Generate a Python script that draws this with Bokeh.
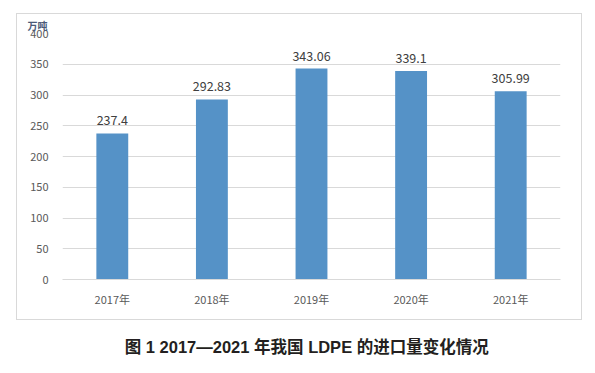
from bokeh.plotting import figure
from bokeh.models import ColumnDataSource, FixedTicker, Range1d, Title
from bokeh.layouts import column
from bokeh.embed import file_html
from bokeh.resources import INLINE
from bokeh.core.properties import value

years = ["2017年", "2018年", "2019年", "2020年", "2021年"]
imports = [237.4, 292.83, 343.06, 339.1, 305.99]
value_labels = ["237.4", "292.83", "343.06", "339.1", "305.99"]
y_ticks = [0, 50, 100, 150, 200, 250, 300, 350, 400]
unit_text = "万吨"
caption_text = "图 1  2017—2021 年我国 LDPE 的进口量变化情况"

FONT = "Noto Sans CJK SC"
CAP_FONT = "Liberation Sans, Noto Sans CJK SC"

src = ColumnDataSource(dict(x=years, top=imports, lab=value_labels))

p = figure(x_range=years, y_range=Range1d(0, 400), width=566, height=307,
           output_backend="svg", toolbar_location=None,
           margin=(13, 0, 0, 16),
           styles={"border": "1px solid #d9d9d9"},
           min_border_left=45, min_border_right=23, min_border_top=19, min_border_bottom=42)
p.outline_line_color = None
p.background_fill_color = "white"
p.border_fill_color = "white"

p.vbar(x="x", top="top", width=0.32, source=src, color="#5592c7", line_color=None)
p.text(x="x", y="top", text="lab", source=src, text_align="center", text_baseline="bottom",
       y_offset=-8, text_font=value(FONT), text_font_size="12.5px", text_color="#404040")

p.yaxis.ticker = FixedTicker(ticks=y_ticks)
p.yaxis.axis_line_color = None
p.yaxis.major_tick_line_color = None
p.yaxis.minor_tick_line_color = None
p.yaxis.major_tick_out = 0
p.yaxis.major_label_text_font = FONT
p.yaxis.major_label_text_font_size = "11px"
p.yaxis.major_label_text_color = "#595959"
p.yaxis.major_label_standoff = 14

p.xaxis.axis_line_color = "#d9d9d9"
p.xaxis.major_tick_line_color = None
p.xaxis.minor_tick_line_color = None
p.xaxis.major_tick_out = 0
p.xaxis.major_label_text_font = FONT
p.xaxis.major_label_text_font_size = "11px"
p.xaxis.major_label_text_color = "#595959"
p.xaxis.major_label_standoff = 11

p.xgrid.grid_line_color = None
p.ygrid.grid_line_color = "#d9d9d9"
p.ygrid.grid_line_width = 1

unit = Title(text=unit_text, align="left", offset=-35, standoff=2,
             text_font=FONT, text_font_size="10px", text_color="#4a5a78",
             text_font_style="bold")
p.add_layout(unit, "above")

cap_fig = figure(width=595, height=40, output_backend="svg", toolbar_location=None,
                 margin=(14, 0, 0, 0),
                 min_border_top=0, min_border_bottom=0, min_border_left=0, min_border_right=0)
cap_fig.axis.visible = False
cap_fig.grid.visible = False
cap_fig.outline_line_color = None
cap_fig.background_fill_color = "white"
cap_fig.border_fill_color = "white"
cap = Title(text=caption_text, align="center", standoff=2,
            text_font=CAP_FONT, text_font_size="16.5px", text_color="#231f20",
            text_font_style="bold")
cap_fig.add_layout(cap, "above")

layout = column(p, cap_fig, spacing=0)
open("out.html", "w").write(file_html(layout, INLINE))
